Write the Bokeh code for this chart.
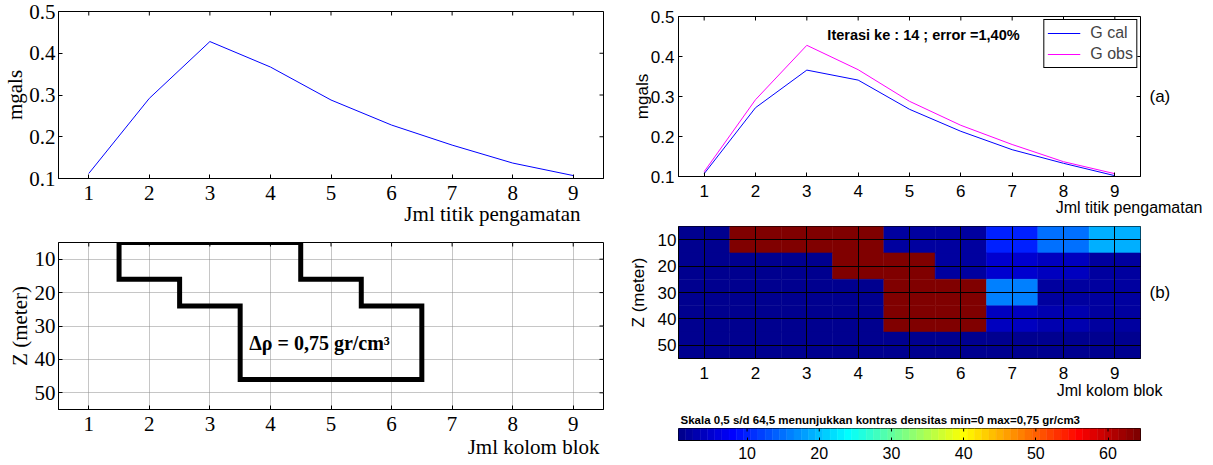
import math
from bokeh.plotting import figure
from bokeh.models import Range1d, LinearAxis, FixedTicker, Label, Title
from bokeh.layouts import row, column
from bokeh.transform import linear_cmap
from bokeh.embed import file_html
from bokeh.resources import INLINE

# ---------------- data ----------------
stations = [1, 2, 3, 4, 5, 6, 7, 8, 9]
g_obs = [0.112, 0.292, 0.428, 0.367, 0.288, 0.228, 0.180, 0.137, 0.107]
g_cal = [0.107, 0.272, 0.366, 0.341, 0.268, 0.213, 0.167, 0.133, 0.102]

block_cols = [1, 2, 3, 4, 5, 6, 7, 8, 9]
block_depths = [10, 20, 30, 40, 50]
density_index = [
    [1, 64, 64, 64, 2, 2, 10, 15, 19],
    [1, 1, 1, 64, 64, 2, 5, 4, 2],
    [1, 1, 1, 1, 64, 64, 16, 2, 2],
    [1, 1, 1, 1, 64, 64, 4, 3, 2],
    [1, 1, 1, 1, 1, 1, 1, 1, 1],
]

model_x = [1.5, 4.5, 4.5, 5.5, 5.5, 6.5, 6.5, 3.5, 3.5, 2.5, 2.5, 1.5, 1.5]
model_z = [5, 5, 16, 16, 24, 24, 46, 46, 24, 24, 16, 16, 5]

station_ticks = [1, 2, 3, 4, 5, 6, 7, 8, 9]
mgal_ticks = [0.1, 0.2, 0.3, 0.4, 0.5]
depth_ticks = [10, 20, 30, 40, 50]
scale_ticks = [10, 20, 30, 40, 50, 60]
scale_levels = list(range(1, 65))

SERIF = "Liberation Serif"
SANS = "Liberation Sans"


def jet(n=64):
    cols = []
    for i in range(1, n + 1):
        if i <= 8:
            r, g, b = 0, 0, (i + 8) / 16
        elif i <= 24:
            r, g, b = 0, (i - 8) / 16, 1
        elif i <= 40:
            r, g, b = (i - 24) / 16, 1, 1 - (i - 24) / 16
        elif i <= 56:
            r, g, b = 1, 1 - (i - 40) / 16, 0
        else:
            r, g, b = 1 - (i - 56) / 16, 0, 0
        cols.append("#%02x%02x%02x" % (round(r * 255), round(g * 255), round(b * 255)))
    return cols


JET = jet(64)


def base_fig(w, h, bl, br, bt, bb, xr, yr):
    p = figure(width=w, height=h, x_range=xr, y_range=yr, output_backend="svg",
               toolbar_location=None, min_border_left=bl, min_border_right=br,
               min_border_top=bt, min_border_bottom=bb)
    p.outline_line_color = "black"
    p.outline_line_alpha = 1.0
    p.background_fill_color = "white"
    p.border_fill_color = "white"
    p.xgrid.visible = False
    p.ygrid.visible = False
    return p


def style_axes(p, xticks, yticks, font, size, xstand, ystand, tick_in=4):
    for ax, t in ((p.xaxis[0], xticks), (p.yaxis[0], yticks)):
        ax.ticker = FixedTicker(ticks=t)
        ax.major_tick_in = tick_in
        ax.major_tick_out = 0
        ax.minor_tick_line_color = None
        ax.axis_line_color = "black"
        ax.major_tick_line_color = "black"
        ax.major_label_text_font = font
        ax.major_label_text_font_size = size
        ax.major_label_text_color = "black"
    p.xaxis[0].major_label_standoff = xstand
    p.yaxis[0].major_label_standoff = ystand


def mirror_ticks(p, xticks, yticks, length=4):
    # inward tick marks on the top and right edges (half of each dash is clipped by the frame)
    if xticks:
        p.scatter(xticks, [p.y_range.end] * len(xticks), marker="dash", angle=math.pi / 2,
                  size=2 * length, line_color="black", line_width=1)
    if yticks:
        p.scatter([p.x_range.end] * len(yticks), yticks, marker="dash",
                  size=2 * length, line_color="black", line_width=1)


def ylabel(p, text, font, size, standoff):
    ax = p.yaxis[0]
    ax.axis_label = text
    ax.axis_label_text_font = font
    ax.axis_label_text_font_size = size
    ax.axis_label_text_font_style = "normal"
    ax.axis_label_text_color = "black"
    ax.axis_label_standoff = standoff


def xlabel(p, text, font, size, offset, standoff):
    p.add_layout(Title(text=text, align="right", offset=offset, standoff=standoff,
                       text_font=font, text_font_size=size, text_font_style="normal",
                       text_color="black"), "below")


def side_tag(p, text, size="17px", standoff=9):
    ax = LinearAxis(ticker=FixedTicker(ticks=[]), axis_line_color=None,
                    major_tick_line_color=None, minor_tick_line_color=None,
                    axis_label=text, axis_label_orientation="horizontal",
                    axis_label_standoff=standoff, axis_label_text_font=SANS,
                    axis_label_text_font_size=size, axis_label_text_font_style="normal",
                    axis_label_text_color="black")
    p.add_layout(ax, "right")


# ---------------- top-left: observed anomaly ----------------
f1 = base_fig(620, 232, 58, 17, 11, 54, Range1d(0.5, 9.5), Range1d(0.1, 0.5))
f1.line(stations, g_obs, line_color="#0000ff", line_width=1)
style_axes(f1, station_ticks, mgal_ticks, SERIF, "21px", 7, 3)
mirror_ticks(f1, station_ticks, mgal_ticks)
ylabel(f1, "mgals", SERIF, "21px", -1)
xlabel(f1, "Jml titik pengamatan", SERIF, "21px", 23, -6)

# ---------------- bottom-left: model ----------------
f2 = base_fig(620, 232, 58, 17, 10, 55, Range1d(0.5, 9.5), Range1d(55, 5))
f2.xgrid.visible = True
f2.ygrid.visible = True
f2.xgrid.ticker = FixedTicker(ticks=station_ticks)
f2.ygrid.ticker = FixedTicker(ticks=depth_ticks)
f2.grid.grid_line_color = "#8c8c8c"
f2.grid.grid_line_dash = "1 1"
f2.line(model_x, model_z, line_color="black", line_width=5, line_join="miter")
style_axes(f2, station_ticks, depth_ticks, SERIF, "21px", 7, 3)
mirror_ticks(f2, station_ticks, depth_ticks)
ylabel(f2, "Z (meter)", SERIF, "21px", 0)
xlabel(f2, "Jml kolom blok", SERIF, "21px", 4, -2)
f2.add_layout(Label(x=3.65, y=35.2, text="\u0394\u03c1 = 0,75 gr/cm\u00b3", text_font=SERIF,
                    text_font_size="20px", text_font_style="bold", text_baseline="middle",
                    text_color="black"))

# ---------------- top-right: fit ----------------
f3 = base_fig(592, 220, 58, 72, 16, 44, Range1d(0.5, 9.5), Range1d(0.1, 0.5))
f3.line(stations, g_cal, line_color="#0000ff", line_width=1, legend_label="G cal")
f3.line(stations, g_obs, line_color="#ff00ff", line_width=1, legend_label="G obs")
style_axes(f3, station_ticks, mgal_ticks, SANS, "17px", 8, 4)
mirror_ticks(f3, station_ticks, mgal_ticks)
ylabel(f3, "mgals", SANS, "17px", -4)
xlabel(f3, "Jml titik pengamatan", SANS, "16px", -62, -5)
side_tag(f3, "(a)")
lg = f3.legend[0]
lg.location = "top_right"
lg.margin = 3
lg.padding = 3
lg.spacing = 1
lg.glyph_width = 33
lg.glyph_height = 20
lg.label_height = 20
lg.label_standoff = 10
lg.border_line_color = "black"
lg.border_line_alpha = 1.0
lg.label_text_font = SANS
lg.label_text_font_size = "16px"
lg.background_fill_alpha = 1.0
f3.add_layout(Label(x=3.4, y=0.455, text="Iterasi ke : 14 ; error =1,40%", text_font=SANS,
                    text_font_size="14.5px", text_font_style="bold", text_baseline="middle",
                    text_color="black"))

# ---------------- right-middle: inverted model ----------------
f4 = base_fig(592, 182, 58, 71, 6, 44, Range1d(0.5, 9.5), Range1d(55, 5))
xs, zs, vs = [], [], []
for zi, z in enumerate(block_depths):
    for ci, c in enumerate(block_cols):
        xs.append(c)
        zs.append(z)
        vs.append(density_index[zi][ci])
cmap = linear_cmap("v", JET, 0.5, 64.5)
f4.rect(x="x", y="z", width=1, height=10, source=dict(x=xs, z=zs, v=vs),
        fill_color=cmap, line_color=cmap, line_width=0.5)
style_axes(f4, station_ticks, depth_ticks, SANS, "17px", 8, 2, tick_in=0)
f4.xgrid.visible = True
f4.ygrid.visible = True
f4.xgrid.ticker = FixedTicker(ticks=station_ticks)
f4.ygrid.ticker = FixedTicker(ticks=depth_ticks)
f4.grid.grid_line_color = "black"
f4.grid.grid_line_width = 1
f4.grid.level = "overlay"
ylabel(f4, "Z (meter)", SANS, "17px", 7)
xlabel(f4, "Jml kolom blok", SANS, "16px", -22, -4)
side_tag(f4, "(b)")

# ---------------- colour scale ----------------
f5 = base_fig(592, 62, 58, 71, 26, 24, Range1d(0.5, 64.5), Range1d(0, 1))
scale_map = linear_cmap("lv", JET, 0.5, 64.5)
f5.rect(x="lv", y=0.5, width=1, height=1, source=dict(lv=scale_levels),
        fill_color=scale_map, line_color=scale_map, line_width=0.5)
style_axes(f5, scale_ticks, [], SANS, "16px", 6, 0, tick_in=3)
f5.yaxis.visible = False
mirror_ticks(f5, scale_ticks, [], length=3)
f5.title.text = "Skala 0,5 s/d 64,5 menunjukkan kontras densitas min=0 max=0,75 gr/cm3"
f5.title.align = "left"
f5.title.offset = 2
f5.title.standoff = 6
f5.title.text_font = SANS
f5.title.text_font_size = "11.5px"
f5.title.text_font_style = "bold"
f5.title.text_color = "black"

layout = row(column(f1, f2), column(f3, f4, f5))

open("out.html", "w").write(file_html(layout, INLINE))
